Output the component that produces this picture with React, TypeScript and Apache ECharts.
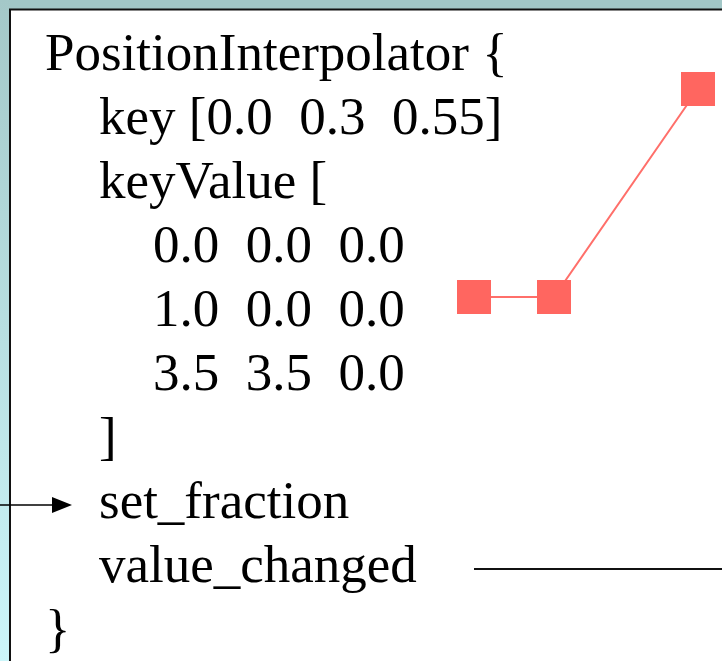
import React, { useEffect, useRef } from "react";
import * as echarts from "echarts";

// Code listing shown on the slide
const codeLines = [
  "PositionInterpolator {",
  "key [0.0  0.3  0.55]",
  "keyValue [",
  "0.0  0.0  0.0",
  "1.0  0.0  0.0",
  "3.5  3.5  0.0",
  "]",
  "set_fraction",
  "value_changed",
  "}",
];
const indentLevels = [0, 1, 1, 2, 2, 2, 1, 1, 1, 0];

// Interpolated positions drawn as red squares (picture units)
const pointX = [0, 1, 2.8];
const pointY = [0, 0, 2.6];

const FONT = "'Times New Roman', 'Liberation Serif', serif";

export default function App() {
  const ref = useRef<HTMLDivElement>(null);
  useEffect(() => {
    if (!ref.current) return;
    const chart = echarts.init(ref.current, undefined, { renderer: "svg" });
    const W = 722;
    const H = 661;
    const fontSize = 53;
    const lineStep = 64;
    const firstBaseline = 70;
    const indentX = [45, 99, 153];
    const midOffset = 17.9;

    const textEls: any[] = codeLines.map((t, i) => ({
      type: "text",
      x: indentX[indentLevels[i]],
      y: firstBaseline + i * lineStep - midOffset,
      z: 10,
      style: {
        text: t,
        fill: "#000",
        font: `${fontSize}px ${FONT}`,
        verticalAlign: "middle",
        align: "left",
      },
    }));

    const option: any = {
      animation: false,
      backgroundColor: "#ffffff",
      grid: { left: 474, right: 8, top: 57, bottom: 364, containLabel: false },
      xAxis: { type: "value", min: 0, max: 3, show: false },
      yAxis: { type: "value", min: 0, max: 3, show: false },
      series: [
        {
          type: "line",
          data: pointX.map((x, i) => [x, pointY[i]]),
          symbol: "rect",
          symbolSize: 34,
          showAllSymbol: true,
          lineStyle: { color: "#ff6f6a", width: 2 },
          itemStyle: { color: "#ff6660", opacity: 1 },
          z: 5,
        },
      ],
      graphic: [
        // slide background outside the box
        {
          type: "rect",
          shape: { x: 0, y: 0, width: W, height: 10 },
          style: { fill: "#a2c7c7" },
          z: 0,
          silent: true,
        },
        {
          type: "rect",
          shape: { x: 0, y: 0, width: 10, height: H },
          style: {
            fill: new echarts.graphic.LinearGradient(0, 0, 0, 1, [
              { offset: 0, color: "#a4c8c8" },
              { offset: 1, color: "#ccf6fa" },
            ]),
          },
          z: 0,
          silent: true,
        },
        {
          type: "rect",
          shape: { x: 10, y: 9.5, width: 800, height: 800 },
          style: { fill: "#ffffff", stroke: "#111", lineWidth: 2 },
          z: 1,
          silent: true,
        },
        // input arrow
        {
          type: "line",
          shape: { x1: 0, y1: 505, x2: 56, y2: 505 },
          style: { stroke: "#000", lineWidth: 1.6 },
          z: 12,
        },
        {
          type: "polygon",
          shape: { points: [[52, 497], [72, 505], [52, 513]] },
          style: { fill: "#000" },
          z: 12,
        },
        // output line
        {
          type: "line",
          shape: { x1: 474, y1: 569, x2: W, y2: 569 },
          style: { stroke: "#111", lineWidth: 2 },
          z: 12,
        },
        ...textEls,
      ],
    };
    chart.setOption(option);
    return () => chart.dispose();
  }, []);
  return (
    <div
      ref={ref}
      style={{ position: "fixed", left: 0, top: 0, width: 722, height: 661 }}
    />
  );
}
